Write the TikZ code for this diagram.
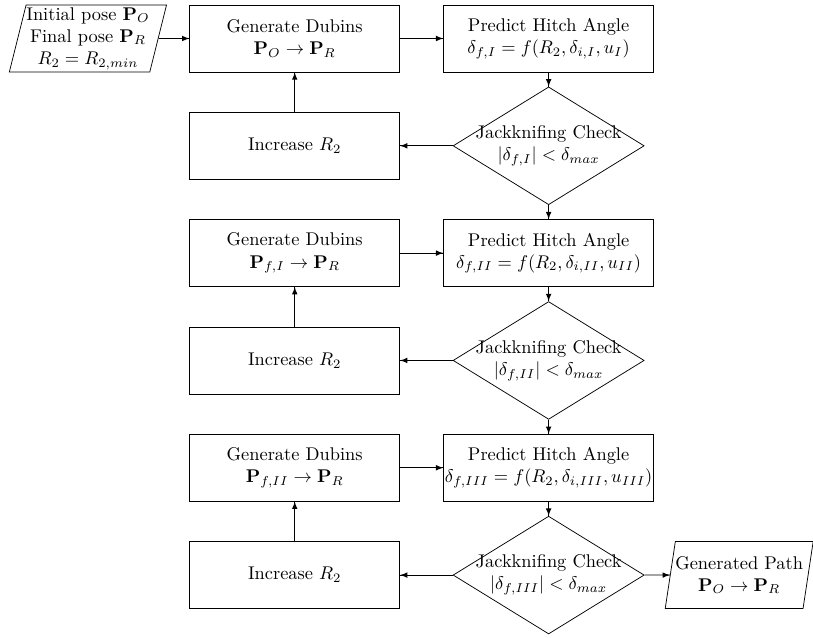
\documentclass[tikz,border=0pt]{standalone}
\usepackage{amsmath}
\tikzset{->/.style = {decoration={markings, mark=at position 1 with {\arrow[scale=1]{latex}}}, postaction={decorate}}}
\tikzset{block/.style = {draw, rectangle, minimum width=4.01cm, minimum height=1.28cm, align=center, inner sep=0pt}}
\tikzset{check/.style = {draw, diamond, minimum width=3.65cm, minimum height=2.25cm, inner sep=0pt}}
\tikzset{io/.style = {draw, trapezium, trapezium left angle=75, trapezium right angle=105, trapezium stretches=true, minimum height=1.28cm, align=center, inner sep=0pt}}
\usetikzlibrary{shapes.geometric,
                 decorations.markings}

\begin{document}
\begin{tikzpicture}
\useasboundingbox (0,0) rectangle (15.53,-12.17);
% first pass
\node [io, minimum width=3.02cm] (pose) at (1.68,-0.735) {Initial pose $\mathbf{P}_O$\\Final pose $\mathbf{P}_R$\\$R_2 = R_{2,min}$};
\node [block] (gen1) at (5.63,-0.735) {Generate Dubins\\$\mathbf{P}_O \rightarrow \mathbf{P}_R$};
\node [block] (pred1) at (10.48,-0.735) {Predict Hitch Angle\\$\delta_{f,I} = f(R_2, \delta_{i,I}, u_I)$};
\node [check, label={[align=center]center:Jackknifing Check\\$|\delta_{f,I}| < \delta_{max}$}] (chk1) at (10.48,-2.785) {};
\node [block] (inc1) at (5.63,-2.785) {Increase $R_2$};
% second pass
\node [block] (gen2) at (5.63,-4.835) {Generate Dubins\\$\mathbf{P}_{f,I} \rightarrow \mathbf{P}_R$};
\node [block] (pred2) at (10.48,-4.835) {Predict Hitch Angle\\$\delta_{f,II} = f(R_2, \delta_{i,II}, u_{II})$};
\node [check, label={[align=center]center:Jackknifing Check\\$|\delta_{f,II}| < \delta_{max}$}] (chk2) at (10.48,-6.885) {};
\node [block] (inc2) at (5.63,-6.885) {Increase $R_2$};
% third pass
\node [block] (gen3) at (5.63,-8.935) {Generate Dubins\\$\mathbf{P}_{f,II} \rightarrow \mathbf{P}_R$};
\node [block] (pred3) at (10.48,-8.935) {Predict Hitch Angle\\$\delta_{f,III} = f(R_2, \delta_{i,III}, u_{III})$};
\node [check, label={[align=center]center:Jackknifing Check\\$|\delta_{f,III}| < \delta_{max}$}] (chk3) at (10.48,-10.985) {};
\node [block] (inc3) at (5.63,-10.985) {Increase $R_2$};
\node [io, minimum width=2.81cm] (path) at (14.12,-10.985) {Generated Path\\$\mathbf{P}_O \rightarrow \mathbf{P}_R$};
% connectors
\draw [->] (pose) -- (gen1);
\draw [->] (gen1) -- (pred1);
\draw [->] (pred1) -- (chk1);
\draw [->] (chk1) -- (inc1);
\draw [->] (inc1) -- (gen1);
\draw [->] (chk1) -- (pred2);
\draw [->] (gen2) -- (pred2);
\draw [->] (pred2) -- (chk2);
\draw [->] (chk2) -- (inc2);
\draw [->] (inc2) -- (gen2);
\draw [->] (chk2) -- (pred3);
\draw [->] (gen3) -- (pred3);
\draw [->] (pred3) -- (chk3);
\draw [->] (chk3) -- (inc3);
\draw [->] (inc3) -- (gen3);
\draw [->] (chk3) -- (path);
\end{tikzpicture}
\end{document}
